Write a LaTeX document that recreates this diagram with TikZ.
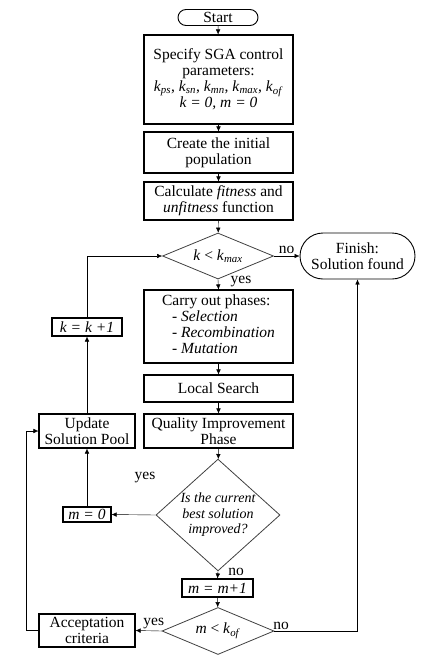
\documentclass[tikz,border=0pt]{standalone}
\usepackage{fontspec}
\setmainfont{Liberation Serif}
\usetikzlibrary{arrows.meta,shapes.geometric,shapes.misc}
\newcommand{\flowfont}{\fontsize{15.5}{16}\selectfont}
\newcommand{\ksub}[1]{\textit{k}\textsubscript{\textit{#1}}}

\begin{document}
\begin{tikzpicture}[
  x=1pt,y=-1pt,>={Latex[length=5pt,width=4.5pt]},
  proc/.style={rectangle,draw,line width=1.1pt,inner sep=0pt,align=center,minimum width=149pt},
  assign/.style={rectangle,draw,line width=1.1pt,inner sep=1pt,font=\flowfont\itshape},
  decision/.style={diamond,draw=black!75,line width=0.8pt,inner sep=0pt,align=center},
  terminal/.style={rounded rectangle,draw,line width=0.9pt,inner sep=0pt,align=center},
  every node/.style={font=\flowfont}
]
  \useasboundingbox (0,0) rectangle (421,659);

  % main column
  \node[terminal,minimum width=80pt,minimum height=16pt] (start) at (218,17.5) {Start};
  \node[proc,minimum height=89pt] (spec) at (218.5,79.5)
    {Specify SGA control\\parameters:\\\ksub{ps}, \ksub{sn}, \ksub{mn}, \ksub{max}, \ksub{of}\\\textit{k = 0, m = 0}};
  \node[proc,minimum height=41pt] (create) at (218.5,152.5) {Create the initial\\population};
  \node[proc,minimum height=38pt] (fit) at (218.5,201)
    {Calculate \textit{fitness} and\\\textit{unfitness} function};
  \node[decision,minimum width=111pt,minimum height=46pt,shape aspect=2.4] (kmax) at (218,256)
    {\textit{k} < \ksub{max}};
  \node[terminal,minimum width=115pt,minimum height=46pt] (finish) at (357.5,256)
    {Finish:\\Solution found};
  \node[proc,minimum height=73pt] (carry) at (218.5,326.5)
    {\begin{tabular}{@{}l@{}}Carry out phases:\\
     \hspace*{10pt}- \textit{Selection}\\
     \hspace*{10pt}- \textit{Recombination}\\
     \hspace*{10pt}- \textit{Mutation}\end{tabular}};
  \node[proc,minimum height=27pt] (local) at (218.5,388.5) {Local Search};
  \node[proc,minimum height=34pt] (quality) at (218.5,431) {Quality Improvement\\Phase};
  \node[decision,minimum width=124pt,minimum height=111pt,shape aspect=1.1,
        font=\fontsize{14}{15.5}\selectfont\itshape] (improved) at (218,515)
    {Is the current\\best solution\\improved?};
  \node[assign,minimum width=71pt,minimum height=18pt] (minc) at (217.5,588) {m = m+1};
  \node[decision,minimum width=112pt,minimum height=47pt,shape aspect=2.4] (mk) at (218,631)
    {\textit{m} < \ksub{of}};

  % left column
  \node[assign,minimum width=70pt,minimum height=18pt] (kinc) at (87,327) {k = k +1};
  \node[proc,minimum width=96pt,minimum height=34pt] (update) at (87,431)
    {Update\\Solution Pool};
  \node[assign,minimum width=48pt,minimum height=15pt] (mzero) at (87,514.5) {m = 0};
  \node[proc,minimum width=96pt,minimum height=33pt] (accept) at (87,630.5)
    {Acceptation\\criteria};
  \coordinate (lft) at (26,431);

  \draw[->] (start) -- (spec);
  \draw[->] (spec) -- (create);
  \draw[->] (create) -- (fit);
  \draw[->] (fit) -- (kmax);
  \draw[->] (kmax.east) -- (finish.west) node[midway,above=-1pt] (no1) {no};
  \draw[->] (kmax.south) -- (carry.north) node[pos=0.2,right=9pt] (yes1) {yes};
  \draw[->] (carry) -- (local);
  \draw[->] (local) -- (quality);
  \draw[->] (quality) -- (improved);
  \draw[->] (improved.west) -- (mzero.east);
  \node (yes2) at (145,478) {yes};
  \draw[->] (mzero) -- (update);
  \draw[->] (update) -- (kinc);
  \draw[->] (kinc.north) |- (kmax.west);
  \draw[->] (improved.south) -- (minc.north) node[pos=0.1,right=7pt] (no2) {no};
  \draw[->] (minc) -- (mk);
  \draw[->] (mk.west) -- (accept.east) node[pos=0.3,above=-2pt] (yes3) {yes};
  \draw[->] (mk.east) -| (finish.south) node[pos=0.04,above=-2pt] (no3) {no};
  \draw[->] (accept.west) -| (lft) -- (update.west);
\end{tikzpicture}
\end{document}
